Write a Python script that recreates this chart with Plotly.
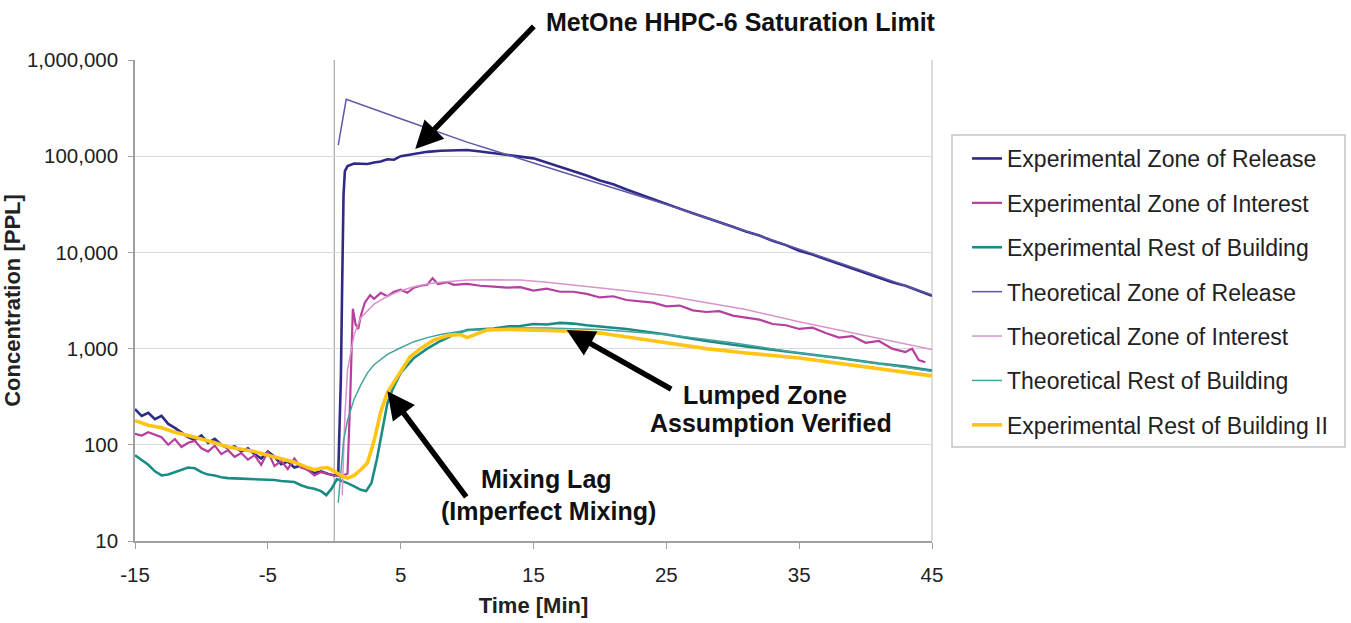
import plotly.graph_objects as go
import math

# ---------------- data ----------------
t_exp_release = [-15, -14.5, -14, -13.5, -13, -12.5, -12, -11.5, -11, -10.5, -10, -9.5, -9, -8.5, -8, -7.5,
                 -7, -6.5, -6, -5.5, -5, -4.5, -4, -3.5, -3, -2.5, -2, -1.5, -1, -0.5, 0, 0.3, 0.5, 0.6,
                 0.7, 0.8, 1.0, 1.5, 2, 2.5, 3, 3.5, 4, 4.5, 5, 6, 7, 8, 9, 10, 11, 12, 13, 14, 15, 16, 17,
                 18, 19, 20, 21, 22, 23, 24, 25, 26, 27, 28, 29, 30, 31, 32, 33, 34, 35, 36, 37, 38, 39,
                 40, 41, 42, 43, 44, 45]
v_exp_release = [235, 200, 215, 185, 200, 165, 150, 135, 120, 112, 125, 105, 115, 100, 92, 96,
                 85, 92, 80, 72, 85, 75, 63, 67, 58, 61, 55, 51, 53, 50, 48, 50, 500, 5000,
                 40000, 70000, 79000, 84000, 84000, 83000, 86000, 88000, 93000, 92000, 100000, 106000, 111000, 114000, 115000, 116000, 112000, 108000, 103000, 99000, 95000, 86000, 78000,
                 70000, 63000, 56000, 51000, 45000, 40000, 35500, 31500, 28500, 25500, 23000, 20500, 18500, 16500, 15000, 13200, 11900, 10400, 9500, 8500, 7600, 6900,
                 6100, 5500, 4900, 4500, 4000, 3550]

t_exp_interest = [-15, -14.5, -14, -13.5, -13, -12.5, -12, -11.5, -11, -10.5, -10, -9.5, -9, -8.5, -8, -7.5,
                  -7, -6.5, -6, -5.5, -5, -4.5, -4, -3.5, -3, -2.5, -2, -1.5, -1, -0.5, 0, 0.5, 1.0, 1.2,
                  1.4, 1.6, 1.8, 2.0, 2.3, 2.7, 3.0, 3.5, 4, 4.5, 5, 5.5, 6, 6.5, 7, 7.4, 7.8, 8.5, 9, 10,
                  11, 12, 13, 14, 15, 16, 17, 18, 19, 20, 21, 22, 23, 24, 25, 26, 27, 28, 29, 30, 31, 32,
                  33, 34, 35, 36, 37, 38, 39, 40, 41, 42, 43, 43.5, 44, 44.5]
v_exp_interest = [130, 125, 135, 128, 120, 100, 115, 95, 105, 110, 92, 85, 98, 80, 88, 75,
                  82, 70, 78, 62, 85, 60, 68, 56, 72, 58, 55, 48, 52, 50, 48, 47, 50, 300,
                  2600, 1800, 1600, 2200, 3000, 3600, 3300, 3800, 3500, 3900, 4100, 3800, 4300, 4500, 4600, 5400, 4700, 4900, 4600, 4700,
                  4500, 4400, 4300, 4350, 4000, 4200, 3900, 3900, 3700, 3400, 3500, 3200, 3100, 3000, 2750, 2800, 2500, 2400, 2450, 2200, 2100, 2000,
                  1800, 1750, 1600, 1650, 1450, 1300, 1350, 1150, 1200, 1000, 920, 1000, 760, 720]

t_exp_rest = [-15, -14.5, -14, -13.5, -13, -12.5, -12, -11.5, -11, -10.5, -10, -9.5, -9, -8.5, -8, -7, -6,
              -5, -4.5, -4, -3, -2.5, -2, -1.5, -1, -0.6, -0.2, 0.2, 0.6, 1.0, 1.5, 2.0, 2.4, 2.8, 3.2,
              3.6, 4.0, 4.4, 5, 6, 7, 8, 9, 10, 11, 12, 13, 14, 15, 16, 17, 18, 19, 20, 22, 25, 28, 31,
              35, 38, 41, 43, 45]
v_exp_rest = [78, 70, 62, 53, 48, 49, 52, 55, 58, 57, 52, 49, 48, 46, 45, 44.5, 44,
              44, 43, 42, 41, 38, 36, 35, 33, 30, 35, 44, 42, 40, 37, 34, 33, 40, 70,
              140, 270, 380, 560, 800, 1000, 1200, 1400, 1560, 1600, 1620, 1700, 1720, 1800, 1780, 1850, 1820, 1750, 1700, 1600, 1400, 1200, 1050,
              900, 800, 700, 650, 590]

t_theo_release = [0.3, 0.9, 5, 10, 15, 20, 25, 30, 35, 40, 45]
v_theo_release = [130000, 390000, 245000, 140000, 85000, 52000, 31500, 18500, 10800, 6300, 3600]

t_theo_interest = [0.6, 0.8, 1.0, 1.5, 2, 3, 4, 5, 6, 7, 8, 9, 10, 12, 14, 16, 18, 20, 22, 25, 28, 31, 35,
                   38, 41, 45]
v_theo_interest = [30, 200, 600, 1400, 2100, 2900, 3500, 4000, 4400, 4700, 4900, 5050, 5150, 5200, 5150,
                   4900, 4600, 4300, 4000, 3550, 3000, 2550, 1900, 1550, 1270, 980]

t_theo_rest = [0.3, 0.5, 0.7, 1.0, 1.5, 2, 2.5, 3, 4, 5, 6, 7, 8, 9, 10, 12, 14, 16, 18, 20, 25, 30, 35, 40, 45]
v_theo_rest = [25, 50, 110, 180, 300, 420, 560, 680, 870, 1020, 1180, 1300, 1400, 1480, 1540, 1600, 1640,
               1640, 1620, 1580, 1400, 1150, 900, 730, 580]

t_exp_rest2 = [-15, -14, -13, -12, -11, -10, -9, -8, -7, -6, -5, -4, -3, -2, -1.5, -1, -0.5, 0, 0.5, 1.0,
               1.5, 2.0, 2.5, 3.0, 3.5, 4.0, 4.5, 5, 5.7, 6.5, 7.5, 8.7, 9.5, 10, 10.5, 11.5, 13, 15, 17,
               18, 20, 22, 25, 28, 31, 35, 38, 41, 43, 45]
v_exp_rest2 = [178, 160, 150, 135, 125, 115, 105, 95, 90, 85, 78, 72, 66, 58, 55, 57, 58, 53, 48, 45,
               48, 55, 65, 110, 220, 350, 450, 600, 820, 1000, 1230, 1380, 1400, 1300, 1380, 1560, 1580, 1560, 1550,
               1520, 1450, 1330, 1150, 1000, 900, 800, 700, 620, 570, 520]

series_names = ["Experimental Zone of Release", "Experimental Zone of Interest", "Experimental Rest of Building",
                "Theoretical Zone of Release", "Theoretical Zone of Interest", "Theoretical Rest of Building",
                "Experimental Rest of Building II"]
series_colors = ["#2E2B86", "#B53F9E", "#1B8C85", "#5F58A8", "#D894CB", "#45A39D", "#FFC414"]
series_widths = [2.6, 2.2, 2.6, 1.5, 1.5, 1.5, 3.6]

y_tick_vals = [10, 100, 1000, 10000, 100000, 1000000]
y_tick_text = ["10", "100", "1,000", "10,000", "100,000", "1,000,000"]
x_tick_vals = [-15, -5, 5, 15, 25, 35, 45]
x_tick_text = ["-15", "-5", "5", "15", "25", "35", "45"]

xs = [t_exp_release, t_exp_interest, t_exp_rest, t_theo_release, t_theo_interest, t_theo_rest, t_exp_rest2]
ys = [v_exp_release, v_exp_interest, v_exp_rest, v_theo_release, v_theo_interest, v_theo_rest, v_exp_rest2]

FONT = "Liberation Sans, Arial, sans-serif"

fig = go.Figure()
for i in range(len(series_names)):
    fig.add_trace(go.Scatter(x=xs[i], y=ys[i], mode="lines", name=series_names[i],
                             legendgroup="g%d" % i,
                             line=dict(color=series_colors[i], width=series_widths[i])))

# plot area in pixels: left 135, right 932, top 60, bottom 541
L, R, T, B = 135, 932, 60, 541
W, H = 1351, 623

def px(xp):
    return (xp - L) / (R - L)

def py(yp):
    return (B - yp) / (B - T)

fig.update_layout(
    width=W, height=H,
    margin=dict(l=L, r=W - R, t=T, b=H - B, pad=0, autoexpand=False),
    paper_bgcolor="white", plot_bgcolor="white",
    font=dict(family=FONT, color="#222222", size=20),
    showlegend=True,
    legend=dict(x=px(967), y=py(137), xanchor="left", yanchor="top",
                borderwidth=0, bgcolor="rgba(0,0,0,0)",
                font=dict(family=FONT, size=23, color="#222222"),
                tracegroupgap=11.5, itemwidth=30),
    xaxis=dict(range=[-15, 45], tickvals=x_tick_vals, ticktext=x_tick_text, ticks="outside", ticklen=6,
               tickcolor="#A0A0A0", ticklabelstandoff=9, automargin=False,
               showline=True, linecolor="#A0A0A0", linewidth=1.5, mirror=False, showgrid=False, zeroline=False,
               tickfont=dict(size=20.5, color="#222222"),
               title=dict(text="<b>Time [Min]</b>", font=dict(size=22, color="#222222"), standoff=12)),
    yaxis=dict(type="log", range=[1, 6], tickvals=y_tick_vals, ticktext=y_tick_text, ticks="outside",
               ticklen=5, tickcolor="#A0A0A0", ticklabelstandoff=6, automargin=True,
               showline=True, linecolor="#A0A0A0", linewidth=1.5,
               showgrid=True, gridcolor="#D9D9D9", gridwidth=1, zeroline=False,
               tickfont=dict(size=20.5, color="#222222"),
               title=dict(text="<b>Concentration [PPL]</b>", font=dict(size=22, color="#222222"), standoff=0)),
)

# right border of plot area and release-time reference line
fig.add_shape(type="line", xref="paper", yref="paper", x0=1, x1=1, y0=0, y1=1,
              line=dict(color="#D0D0D0", width=1.5), layer="below")
fig.add_shape(type="line", xref="x", yref="paper", x0=0, x1=0, y0=0, y1=1,
              line=dict(color="#A6A6A6", width=1.2), layer="below")
# legend frame
fig.add_shape(type="rect", xref="paper", yref="paper", x0=px(952), x1=px(1345), y0=py(447), y1=py(135),
              line=dict(color="#C4C4C4", width=1.5), fillcolor="white", layer="below")

# arrows (tip in data coordinates, tail as pixel offset)
def arrow(tx, ty, ax, ay):
    fig.add_annotation(x=tx, y=math.log10(ty), xref="x", yref="y", text="", showarrow=True,
                       ax=ax, ay=ay, arrowhead=2, arrowsize=1, arrowwidth=5.5, arrowcolor="black")

arrow(6.1, 119000, 120, -124)
arrow(17.5, 1560, 106, 60)
arrow(4.0, 360, 80, 107)

def label(xpix, ypix, txt, size=25):
    fig.add_annotation(x=px(xpix), y=py(ypix), xref="paper", yref="paper", text="<b>%s</b>" % txt,
                       showarrow=False, xanchor="center", yanchor="middle",
                       font=dict(family=FONT, size=size, color="#111111"))

label(741, 22, "MetOne HHPC-6 Saturation Limit")
label(765, 395, "Lumped Zone")
label(771, 423, "Assumption Verified")
label(546, 479, "Mixing Lag")
label(548, 511, "(Imperfect Mixing)")

fig.write_html("out.html")
